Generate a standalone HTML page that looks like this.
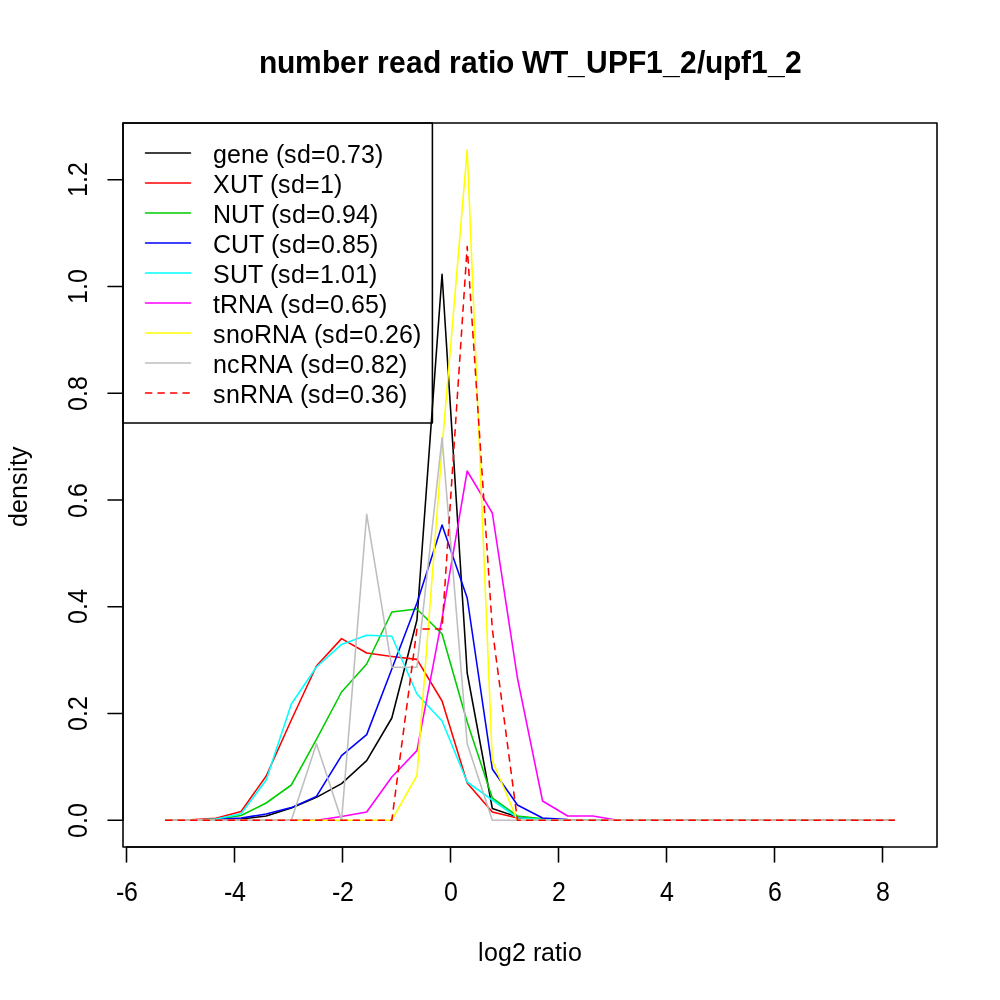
<!DOCTYPE html>
<html><head><meta charset="utf-8"><title>number read ratio WT_UPF1_2/upf1_2</title>
<style>
html,body{margin:0;padding:0;background:#fff;}
body{width:1000px;height:1000px;overflow:hidden;}
svg{display:block;}
text{font-family:"Liberation Sans",sans-serif;fill:#000;font-kerning:none;}
.t{font-size:25px;}
.title{font-size:30px;font-weight:bold;}
.ln{fill:none;stroke-width:1.5625;stroke-linecap:round;stroke-linejoin:round;}
</style></head><body>
<svg width="1000" height="1000" viewBox="0 0 1000 1000">
<rect x="0" y="0" width="1000" height="1000" fill="#ffffff"/>
<polyline class="ln" stroke="#000000" points="165.71,820.20 190.83,820.20 215.96,819.60 241.08,819.00 266.20,816.00 291.33,808.00 316.45,797.40 341.57,783.60 366.69,760.60 391.82,718.00 416.94,620.00 442.06,274.30 467.19,673.00 492.31,808.40 517.43,817.00 542.56,819.60 567.68,820.20 592.80,820.20 617.92,820.20 643.05,820.20 668.17,820.20 693.29,820.20 718.42,820.20 743.54,820.20 768.66,820.20 793.79,820.20 818.91,820.20 844.03,820.20 869.15,820.20 894.28,820.20"/>
<polyline class="ln" stroke="#FF0000" points="165.71,820.20 190.83,819.80 215.96,818.30 241.08,811.50 266.20,776.00 291.33,720.00 316.45,666.00 341.57,638.60 366.69,653.00 391.82,656.40 416.94,659.40 442.06,701.00 467.19,783.00 492.31,812.00 517.43,818.00 542.56,820.20 567.68,820.20 592.80,820.20 617.92,820.20 643.05,820.20 668.17,820.20 693.29,820.20 718.42,820.20 743.54,820.20 768.66,820.20 793.79,820.20 818.91,820.20 844.03,820.20 869.15,820.20 894.28,820.20"/>
<polyline class="ln" stroke="#00CD00" points="165.71,820.20 190.83,820.20 215.96,819.30 241.08,815.50 266.20,803.00 291.33,785.00 316.45,739.40 341.57,692.00 366.69,664.00 391.82,612.00 416.94,609.00 442.06,634.00 467.19,722.00 492.31,798.00 517.43,816.00 542.56,818.80 567.68,820.20 592.80,820.20 617.92,820.20 643.05,820.20 668.17,820.20 693.29,820.20 718.42,820.20 743.54,820.20 768.66,820.20 793.79,820.20 818.91,820.20 844.03,820.20 869.15,820.20 894.28,820.20"/>
<polyline class="ln" stroke="#0000FF" points="165.71,820.20 190.83,820.20 215.96,819.60 241.08,818.00 266.20,814.00 291.33,807.60 316.45,796.40 341.57,755.60 366.69,734.60 391.82,669.00 416.94,603.00 442.06,525.00 467.19,598.00 492.31,769.00 517.43,805.00 542.56,818.00 567.68,819.60 592.80,820.20 617.92,820.20 643.05,820.20 668.17,820.20 693.29,820.20 718.42,820.20 743.54,820.20 768.66,820.20 793.79,820.20 818.91,820.20 844.03,820.20 869.15,820.20 894.28,820.20"/>
<polyline class="ln" stroke="#00FFFF" points="165.71,820.20 190.83,820.20 215.96,819.00 241.08,813.70 266.20,780.00 291.33,704.00 316.45,667.00 341.57,644.40 366.69,635.20 391.82,636.30 416.94,694.00 442.06,721.00 467.19,782.00 492.31,800.00 517.43,817.80 542.56,819.50 567.68,820.20 592.80,820.20 617.92,820.20 643.05,820.20 668.17,820.20 693.29,820.20 718.42,820.20 743.54,820.20 768.66,820.20 793.79,820.20 818.91,820.20 844.03,820.20 869.15,820.20 894.28,820.20"/>
<polyline class="ln" stroke="#FF00FF" points="165.71,820.20 190.83,820.20 215.96,820.20 241.08,820.20 266.20,820.20 291.33,820.20 316.45,820.20 341.57,816.60 366.69,812.00 391.82,777.00 416.94,750.60 442.06,618.40 467.19,471.00 492.31,513.00 517.43,678.00 542.56,801.00 567.68,816.00 592.80,816.00 617.92,820.20 643.05,820.20 668.17,820.20 693.29,820.20 718.42,820.20 743.54,820.20 768.66,820.20 793.79,820.20 818.91,820.20 844.03,820.20 869.15,820.20 894.28,820.20"/>
<polyline class="ln" stroke="#FFFF00" points="165.71,820.20 190.83,820.20 215.96,820.20 241.08,820.20 266.20,820.20 291.33,820.20 316.45,820.20 341.57,820.20 366.69,820.20 391.82,820.20 416.94,775.50 442.06,447.80 467.19,149.80 492.31,760.60 517.43,820.20 542.56,820.20 567.68,820.20 592.80,820.20 617.92,820.20 643.05,820.20 668.17,820.20 693.29,820.20 718.42,820.20 743.54,820.20 768.66,820.20 793.79,820.20 818.91,820.20 844.03,820.20 869.15,820.20 894.28,820.20"/>
<polyline class="ln" stroke="#BEBEBE" points="165.71,820.20 190.83,820.20 215.96,820.20 241.08,820.20 266.20,820.20 291.33,820.20 316.45,743.70 341.57,820.20 366.69,514.30 391.82,667.20 416.94,667.20 442.06,437.80 467.19,743.70 492.31,820.20 517.43,820.20 542.56,820.20 567.68,820.20 592.80,820.20 617.92,820.20 643.05,820.20 668.17,820.20 693.29,820.20 718.42,820.20 743.54,820.20 768.66,820.20 793.79,820.20 818.91,820.20 844.03,820.20 869.15,820.20 894.28,820.20"/>
<polyline class="ln" stroke="#FF0000" stroke-dasharray="6.25 6.25" points="165.71,820.20 190.83,820.20 215.96,820.20 241.08,820.20 266.20,820.20 291.33,820.20 316.45,820.20 341.57,820.20 366.69,820.20 391.82,820.20 416.94,629.00 442.06,629.00 467.19,246.60 492.31,629.00 517.43,820.20 542.56,820.20 567.68,820.20 592.80,820.20 617.92,820.20 643.05,820.20 668.17,820.20 693.29,820.20 718.42,820.20 743.54,820.20 768.66,820.20 793.79,820.20 818.91,820.20 844.03,820.20 869.15,820.20 894.28,820.20"/>
<rect class="ln" stroke="#000" x="123" y="123" width="814" height="724"/>
<path class="ln" stroke="#000" d="M126.50 847H882.50M126.50 847v15M234.50 847v15M342.50 847v15M450.50 847v15M558.50 847v15M666.50 847v15M774.50 847v15M882.50 847v15"/>
<text class="t" transform="translate(116.00,901.00) scale(1,1.1)" x="0 8" y="0">-6</text>
<text class="t" transform="translate(224.00,901.00) scale(1,1.1)" x="0 8" y="0">-4</text>
<text class="t" transform="translate(332.00,901.00) scale(1,1.1)" x="0 8" y="0">-2</text>
<text class="t" transform="translate(444.00,901.00) scale(1,1.1)" x="0" y="0">0</text>
<text class="t" transform="translate(552.00,901.00) scale(1,1.1)" x="0" y="0">2</text>
<text class="t" transform="translate(660.00,901.00) scale(1,1.1)" x="0" y="0">4</text>
<text class="t" transform="translate(768.00,901.00) scale(1,1.1)" x="0" y="0">6</text>
<text class="t" transform="translate(876.00,901.00) scale(1,1.1)" x="0" y="0">8</text>
<path class="ln" stroke="#000" d="M123 820.20V179.82M123 820.20h-15M123 713.47h-15M123 606.74h-15M123 500.01h-15M123 393.28h-15M123 286.55h-15M123 179.82h-15"/>
<text class="t" transform="translate(87.00,838.00) rotate(-90) scale(1,1.1)" x="0 14 21" y="0">0.0</text>
<text class="t" transform="translate(87.00,731.00) rotate(-90) scale(1,1.1)" x="0 14 21" y="0">0.2</text>
<text class="t" transform="translate(87.00,624.00) rotate(-90) scale(1,1.1)" x="0 14 21" y="0">0.4</text>
<text class="t" transform="translate(87.00,518.00) rotate(-90) scale(1,1.1)" x="0 14 21" y="0">0.6</text>
<text class="t" transform="translate(87.00,411.00) rotate(-90) scale(1,1.1)" x="0 14 21" y="0">0.8</text>
<text class="t" transform="translate(87.00,304.00) rotate(-90) scale(1,1.1)" x="0 14 21" y="0">1.0</text>
<text class="t" transform="translate(87.00,197.00) rotate(-90) scale(1,1.1)" x="0 14 21" y="0">1.2</text>
<text class="title" transform="translate(259.00,73.00) scale(1,1.07)" x="0 18 36 63 81 98 110 118 130 147 164 182 190 202 219 229 237 255 263 291 309 327 349 369 387 404 421 438 446 464 482 492 509 526" y="0">number read ratio WT_UPF1_2/upf1_2</text>
<text class="t" transform="translate(478.00,961.00) scale(1,1.0)" x="0 6 20 34 48 55 63 77 84 90" y="0">log2 ratio</text>
<text class="t" transform="translate(27.00,527.00) rotate(-90) scale(1,1.0)" x="0 14 28 42 55 61 68" y="0">density</text>
<rect class="ln" stroke="#000" fill="#fff" x="123" y="123" width="309.4" height="300.0"/>
<path class="ln" stroke="#000000" d="M145.5 153.00H190.5"/>
<text class="t" transform="translate(0,163.00) scale(1,1.04)" x="213 227 241 255 269 276 284 297 311 326 340 347 361 375" y="0">gene (sd=0.73)</text>
<path class="ln" stroke="#FF0000" d="M145.5 183.00H190.5"/>
<text class="t" transform="translate(0,193.00) scale(1,1.04)" x="213 230 248 263 270 278 291 305 320 334" y="0">XUT (sd=1)</text>
<path class="ln" stroke="#00CD00" d="M145.5 213.00H190.5"/>
<text class="t" transform="translate(0,223.00) scale(1,1.04)" x="213 231 249 264 271 279 292 306 321 335 342 356 370" y="0">NUT (sd=0.94)</text>
<path class="ln" stroke="#0000FF" d="M145.5 243.00H190.5"/>
<text class="t" transform="translate(0,253.00) scale(1,1.04)" x="213 231 249 264 271 279 292 306 321 335 342 356 370" y="0">CUT (sd=0.85)</text>
<path class="ln" stroke="#00FFFF" d="M145.5 273.00H190.5"/>
<text class="t" transform="translate(0,283.00) scale(1,1.04)" x="213 230 248 263 270 278 291 305 320 334 341 355 369" y="0">SUT (sd=1.01)</text>
<path class="ln" stroke="#FF00FF" d="M145.5 303.00H190.5"/>
<text class="t" transform="translate(0,313.00) scale(1,1.04)" x="213 220 238 256 273 280 288 301 315 330 344 351 365 379" y="0">tRNA (sd=0.65)</text>
<path class="ln" stroke="#FFFF00" d="M145.5 333.00H190.5"/>
<text class="t" transform="translate(0,343.00) scale(1,1.04)" x="213 226 240 254 272 290 307 314 322 335 349 364 378 385 399 413" y="0">snoRNA (sd=0.26)</text>
<path class="ln" stroke="#BEBEBE" d="M145.5 363.00H190.5"/>
<text class="t" transform="translate(0,373.00) scale(1,1.04)" x="213 227 240 258 276 293 300 308 321 335 350 364 371 385 399" y="0">ncRNA (sd=0.82)</text>
<path class="ln" stroke="#FF0000" stroke-dasharray="6.25 6.25" d="M145.5 393.00H190.5"/>
<text class="t" transform="translate(0,403.00) scale(1,1.04)" x="213 226 240 258 276 293 300 308 321 335 350 364 371 385 399" y="0">snRNA (sd=0.36)</text>
</svg>
</body></html>
